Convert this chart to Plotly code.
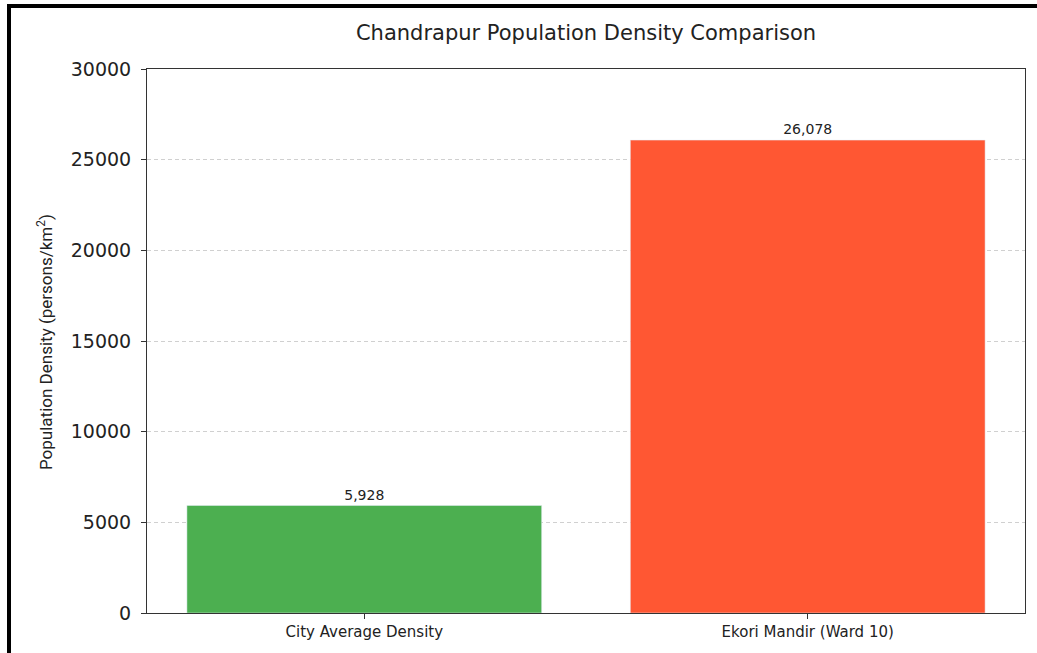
import plotly.graph_objects as go

categories = ["City Average Density", "Ekori Mandir (Ward 10)"]
densities = [5928, 26078]
bar_colors = ["#4CAF50", "#FF5733"]
labels = [f"{v:,}" for v in densities]
y_ticks = [0, 5000, 10000, 15000, 20000, 25000, 30000]

W, H = 1037, 653
ml, mr, mt, mb = 147, 12, 69, 40
pw, ph = W - ml - mr, H - mt - mb
WIDE = "DejaVu Sans, sans-serif"

fig = go.Figure(go.Bar(
    x=[0, 1], y=densities, marker_color=bar_colors, width=0.8,
    text=labels, textposition="outside", cliponaxis=False,
    textfont=dict(family=WIDE, size=14, color="#222"),
))

def px2paper_x(px):
    return (px - ml) / pw

def px2paper_y(py):
    return (H - mb - py) / ph

fig.update_layout(
    width=W, height=H,
    margin=dict(l=ml, r=mr, t=mt, b=mb),
    paper_bgcolor="white", plot_bgcolor="white",
    showlegend=False,
    title=dict(text="Chandrapur Population Density Comparison",
               x=px2paper_x(586), xref="paper", xanchor="center",
               y=1 - 33 / H, yanchor="middle",
               font=dict(family=WIDE, size=21, color="#222")),
    font=dict(family=WIDE, color="#222"),
    xaxis=dict(range=[-0.49, 1.49], tickmode="array", tickvals=[0, 1], ticktext=categories,
               showline=True, linecolor="#333", linewidth=1, mirror=True,
               ticks="outside", ticklen=5, tickcolor="#333",
               tickfont=dict(size=15, family=WIDE), showgrid=False, zeroline=False),
    yaxis=dict(range=[0, 30000], tickmode="array", tickvals=y_ticks,
               ticktext=[str(v) for v in y_ticks],
               showline=True, linecolor="#333", linewidth=1, mirror=True,
               ticks="outside", ticklen=5, tickcolor="#333", ticklabelstandoff=6,
               tickfont=dict(size=19, family=WIDE),
               showgrid=True, gridcolor="#d0d0d0", griddash="4px,3px", gridwidth=1,
               zeroline=False),
    bargap=0.2,
)

fig.add_annotation(text="Population Density (persons/km<sup>2</sup>)",
                   xref="paper", yref="paper", x=px2paper_x(45), y=px2paper_y(342),
                   xanchor="center", yanchor="middle", textangle=-90, showarrow=False,
                   font=dict(size=17, family="Liberation Sans Narrow, Roboto, sans-serif", color="#222"))

# black frame lines (top and left) as in the reference
fig.add_shape(type="line", xref="paper", yref="paper",
              x0=px2paper_x(7), x1=px2paper_x(1040), y0=px2paper_y(6), y1=px2paper_y(6),
              line=dict(color="black", width=4))
fig.add_shape(type="line", xref="paper", yref="paper",
              x0=px2paper_x(9), x1=px2paper_x(9), y0=px2paper_y(4), y1=px2paper_y(660),
              line=dict(color="black", width=4))

fig.write_html("out.html")
